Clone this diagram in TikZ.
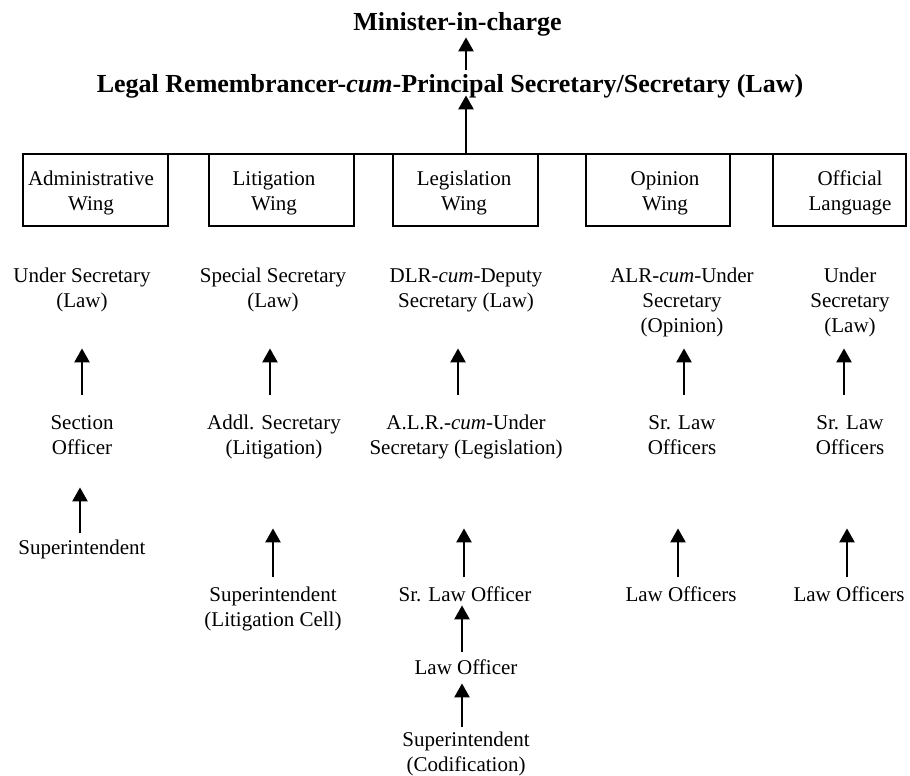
\documentclass[tikz,border=0pt]{standalone}
\usepackage{fontspec}
\setmainfont{Liberation Serif}
\usetikzlibrary{arrows.meta}
\begin{document}
\begin{tikzpicture}[x=1pt,y=-1pt,
  txt/.style={align=center, inner sep=0pt, anchor=north, font=\fontsize{21}{25}\selectfont},
  head/.style={inner sep=0pt, anchor=north, font=\fontsize{26}{31}\selectfont\bfseries},
  wbox/.style={draw, line width=1.5pt, minimum width=#1, minimum height=72pt, inner sep=0pt},
  arr/.style={line width=2.5pt, -{Triangle[length=14pt,width=15pt]}}
]
\useasboundingbox (0,0) rectangle (910,776);

% headings
\node[head] (min) at (457.5,8.3) {\strut Minister-in-charge};
\node[head] (lr) at (450,70.3) {\strut Legal Remembrancer-\textit{cum}-Principal Secretary/Secretary (Law)};
\draw[arr, shorten >=-2.3pt] ([xshift=16pt]lr.north) -- ([xshift=8.5pt]min.south);

% horizontal bar
\coordinate (hl) at (23,153.5);
\coordinate (hr) at (898,153.5);
\coordinate (hm) at (466,154);
\draw[line width=2pt] (hl) -- (hr);
\draw[arr, shorten >=-6.3pt] (hm) -- ([xshift=16pt]lr.south);

% wing boxes
\node[wbox=145pt] (b1) at (95.5,190) {};
\node[wbox=145pt] (b2) at (281.5,190) {};
\node[wbox=145pt] (b3) at (465.5,190) {};
\node[wbox=144pt] (b4) at (658,190) {};
\node[wbox=133pt] (b5) at (839.5,190) {};
\node[txt] (t1) at (91,167.5) {\strut Administrative\\Wing\strut};
\node[txt] (t2) at (274,167.5) {\strut Litigation\\Wing\strut};
\node[txt] (t3) at (464,167.5) {\strut Legislation\\Wing\strut};
\node[txt] (t4) at (665,167.5) {\strut Opinion\\Wing\strut};
\node[txt] (t5) at (850,167.5) {\strut Official\\Language\strut};

% row A
\node[txt] (a1) at (82,264.5) {\strut Under Secretary\\(Law)\strut};
\node[txt] (a2) at (273,264.5) {\strut Special Secretary\\(Law)\strut};
\node[txt] (a3) at (466,264.5) {\strut DLR-\textit{cum}-Deputy\\Secretary (Law)\strut};
\node[txt] (a4) at (682,264.5) {\strut ALR-\textit{cum}-Under\\Secretary\\(Opinion)\strut};
\node[txt] (a5) at (850,264.5) {\strut Under\\Secretary\\(Law)\strut};

% row B
\node[txt] (r1) at (82,411.5) {\strut Section\\Officer\strut};
\node[txt] (r2) at (274,411.5) {\strut Addl. Secretary\\(Litigation)\strut};
\node[txt] (r3) at (466,411.5) {\strut A.L.R.-\textit{cum}-Under\\Secretary (Legislation)\strut};
\node[txt] (r4) at (682,411.5) {\strut Sr. Law\\Officers\strut};
\node[txt] (r5) at (850,411.5) {\strut Sr. Law\\Officers\strut};

% lower rows
\node[txt] (s1) at (82,536.5) {\strut Superintendent\strut};
\node[txt] (c2) at (273,583.5) {\strut Superintendent\\(Litigation Cell)\strut};
\node[txt] (c3) at (465,583.5) {\strut Sr. Law Officer\strut};
\node[txt] (c4) at (681,583.5) {\strut Law Officers\strut};
\node[txt] (c5) at (849,583.5) {\strut Law Officers\strut};
\node[txt] (d3) at (466,656.5) {\strut Law Officer\strut};
\node[txt] (e3) at (466,728.5) {\strut Superintendent\\(Codification)\strut};

% arrows row B -> row A
\draw[arr, shorten <=16.5pt, shorten >=33.5pt] (r1.north) -- (a1.south);
\draw[arr, shorten <=16.5pt, shorten >=33.5pt] ([xshift=-4pt]r2.north) -- ([xshift=-3pt]a2.south);
\draw[arr, shorten <=16.5pt, shorten >=33.5pt] ([xshift=-8pt]r3.north) -- ([xshift=-8pt]a3.south);
\draw[arr, shorten <=16.5pt, shorten >=8.5pt] ([xshift=2pt]r4.north) -- ([xshift=2pt]a4.south);
\draw[arr, shorten <=16.5pt, shorten >=8.5pt] ([xshift=-6pt]r5.north) -- ([xshift=-6pt]a5.south);

% arrows lower rows
\draw[arr, shorten <=3.5pt, shorten >=25.5pt] ([xshift=-2pt]s1.north) -- ([xshift=-2pt]r1.south);
\draw[arr, shorten <=6.5pt, shorten >=66.5pt] (c2.north) -- ([xshift=-1pt]r2.south);
\draw[arr, shorten <=6.5pt, shorten >=66.5pt] ([xshift=-1pt]c3.north) -- ([xshift=-2pt]r3.south);
\draw[arr, shorten <=6.5pt, shorten >=66.5pt] ([xshift=-3pt]c4.north) -- ([xshift=-4pt]r4.south);
\draw[arr, shorten <=6.5pt, shorten >=66.5pt] ([xshift=-2pt]c5.north) -- ([xshift=-3pt]r5.south);
\draw[arr, shorten <=4.5pt, shorten >=-3.5pt] ([xshift=-4pt]d3.north) -- ([xshift=-3pt]c3.south);
\draw[arr, shorten <=1.5pt, shorten >=1.5pt] ([xshift=-4pt]e3.north) -- ([xshift=-4pt]d3.south);
\end{tikzpicture}
\end{document}
